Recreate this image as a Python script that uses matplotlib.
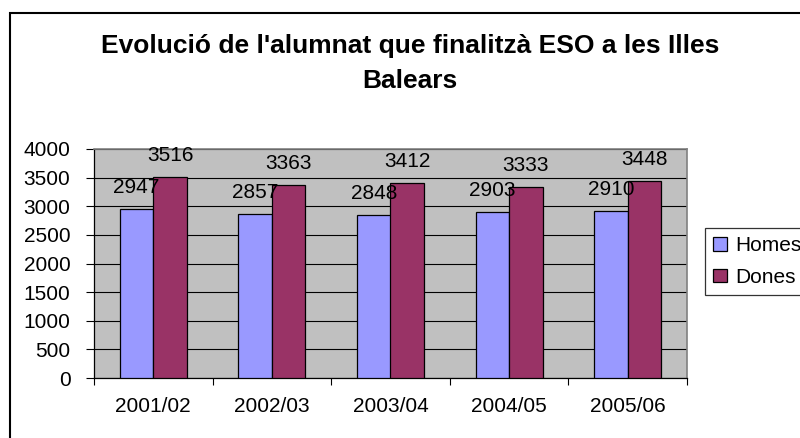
#!/usr/bin/env python
# -*- coding: utf-8 -*-

import matplotlib
matplotlib.use('Agg')
import matplotlib.pyplot as plt
from matplotlib.patches import Rectangle
import numpy as np

# Data
CURSOS = ['2001/02', '2002/03', '2003/04', '2004/05', '2005/06']
HOMES  = [2947, 2857, 2848, 2903, 2910]
DONES  = [3516, 3363, 3412, 3333, 3448]
YTICKS = [0, 500, 1000, 1500, 2000, 2500, 3000, 3500, 4000]

# Style
W, H      = 800, 438
DPI       = 100
C_HOMES   = '#9999FF'
C_DONES   = '#993366'
C_BG      = '#C0C0C0'
FONT      = 'Liberation Sans'
FS        = 15

plt.rcParams['font.family'] = [FONT, 'DejaVu Sans']

fig = plt.figure(figsize=(W / DPI, H / DPI), dpi=DPI)
fig.patch.set_facecolor('white')

# outer chart border (cropped on the right and bottom)
fig.patches.append(Rectangle((10 / W, -0.05), 1.0, 1 - 13 / H + 0.05,
                             transform=fig.transFigure, fill=False,
                             edgecolor='black', linewidth=1.5))

# plot area: x 94..687, y 149..378 px
ax = fig.add_axes([94 / W, 1 - 378 / H, (687 - 94) / W, (378 - 149) / H])
ax.set_facecolor(C_BG)

x  = np.arange(len(CURSOS))
bw = 0.283
b1 = ax.bar(x - bw / 2, HOMES, bw, color=C_HOMES, edgecolor='black', linewidth=0.9, zorder=3, label='Homes')
b2 = ax.bar(x + bw / 2, DONES, bw, color=C_DONES, edgecolor='black', linewidth=0.9, zorder=3, label='Dones')

for bars, vals in ((b1, HOMES), (b2, DONES)):
    for rect, v in zip(bars, vals):
        ax.annotate(str(v), (rect.get_x() + rect.get_width() / 2, v),
                    xytext=(0, 11.5), textcoords='offset points',
                    ha='center', va='baseline', fontsize=FS, zorder=4,
                    annotation_clip=False)

ax.set_xlim(-0.5, len(CURSOS) - 0.5)
ax.set_ylim(0, 4000)
ax.set_yticks(YTICKS)
ax.set_yticklabels([str(t) for t in YTICKS], fontsize=FS)
ax.yaxis.grid(True, color='black', linewidth=0.8, zorder=1)
ax.set_axisbelow(True)

# category ticks between groups, labels centred
ax.set_xticks(np.arange(len(CURSOS) + 1) - 0.5)
ax.set_xticklabels([])
ax.set_xticks(x, minor=True)
ax.set_xticklabels(CURSOS, minor=True, fontsize=FS)
ax.tick_params(axis='x', which='major', length=5, width=0.8, direction='out')
ax.tick_params(axis='x', which='minor', length=0, pad=14)
ax.tick_params(axis='y', length=6, width=0.8, direction='out', pad=11)

for side in ('top', 'right'):
    ax.spines[side].set_color('#808080')
    ax.spines[side].set_linewidth(1.2)
for side in ('left', 'bottom'):
    ax.spines[side].set_color('black')
    ax.spines[side].set_linewidth(0.9)

fig.text(410 / W, 1 - 53 / H, "Evolució de l'alumnat que finalitzà ESO a les Illes",
         ha='center', va='baseline', fontsize=19, fontweight='bold')
fig.text(410 / W, 1 - 88 / H, 'Balears',
         ha='center', va='baseline', fontsize=19, fontweight='bold')

leg = fig.legend(handles=[b1, b2], loc='upper left',
                 bbox_to_anchor=(705 / W, 1 - 228 / H), bbox_transform=fig.transFigure,
                 fontsize=FS, frameon=True, fancybox=False, edgecolor='black',
                 handlelength=0.65, handleheight=0.65, handletextpad=0.4,
                 borderpad=0.4, labelspacing=0.6, borderaxespad=0)
leg.get_frame().set_linewidth(0.9)

fig.savefig('out.png', dpi=DPI)
